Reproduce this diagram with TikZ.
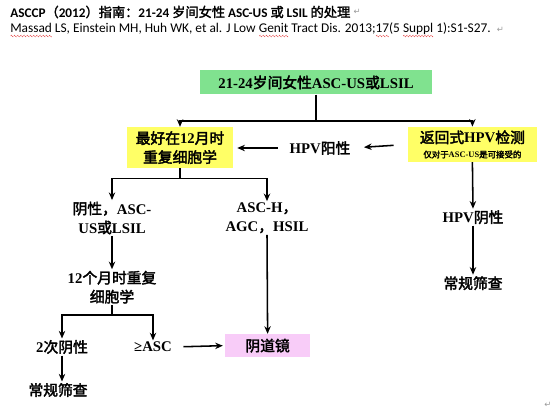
\documentclass[tikz,border=0pt]{standalone}
\usepackage{fontspec}
\setmainfont{Liberation Serif}
\newfontfamily\zhfont{Noto Sans CJK SC}[FakeBold=2.5]
\newfontfamily\zhtitle{Noto Sans CJK SC}[FakeBold=2]
\newfontfamily\calfont{Carlito}
\newfontfamily\markfont{DejaVu Sans}
\usetikzlibrary{arrows.meta,positioning}
\definecolor{boxgreen}{HTML}{80E28F}
\definecolor{boxyellow}{HTML}{FFFF66}
\definecolor{boxpink}{HTML}{F8CCF8}
\definecolor{markgray}{HTML}{9A9A9A}
\definecolor{spellred}{HTML}{E03030}
\newcommand{\zh}[1]{{\zhfont\mdseries #1}}
\newcommand{\zht}[1]{{\zhtitle\mdseries #1}}
\newcommand{\spellmark}[1]{\setbox0\hbox{#1}%
  \rlap{\color{spellred}\raisebox{-2.6pt}{\hbox to \wd0{\xleaders\hbox{%
    \rotatebox{40}{\rule{1.1pt}{0.35pt}}\rotatebox{-40}{\rule{1.1pt}{0.35pt}}}\hfil}}}\box0\relax}

\begin{document}
\begin{tikzpicture}[
  every node/.style={font=\fontsize{10.5}{13.5}\selectfont\bfseries},
  txt/.style={align=center, inner sep=1pt},
  greenbox/.style={fill=boxgreen, align=center, inner sep=2pt,
                   minimum width=5.8cm, minimum height=0.6cm},
  yellowbox/.style={fill=boxyellow, align=center, inner sep=2pt},
  pinkbox/.style={fill=boxpink, align=center, inner sep=2pt,
                  minimum width=2.125cm, minimum height=0.575cm},
  retmark/.style={font=\markfont\fontsize{6}{6}\selectfont, text=markgray, inner sep=0pt},
  line/.style={draw, line width=1.1pt},
  arr/.style={-{Stealth[length=1.9mm, width=1.6mm]}, line width=1.1pt}
]
  \useasboundingbox (0,0) rectangle (14,-10.35);

  % Heading and reference
  \node[anchor=west, inner sep=0pt, font=\calfont\bfseries\fontsize{9.4}{11}\selectfont] (title) at (0.25,-0.3)
    {ASCCP\zht{（}2012\zht{）指南：}21-24 \zht{岁间女性} ASC-US \zht{或} LSIL \zht{的处理}};
  \node[retmark, right=2pt of title] (mark1) {↵};
  \node[anchor=west, inner sep=0pt, font=\calfont\fontsize{9.5}{11}\selectfont] (cite) at (0.25,-0.75)
    {\spellmark{Massad} LS, Einstein MH, Huh WK, et al. J Low \spellmark{Genit} Tract Dis. 2013;\spellmark{17}(5 \spellmark{Suppl} 1):S1-S27.};
  \node[retmark, right=4pt of cite] (mark2) {↵};
  \node[retmark] (mark3) at (13.7,-10.12) {↵};

  % Boxes
  \node[greenbox] (start) at (7.9,-2.06) {21-24\zh{岁间女性}ASC-US\zh{或}LSIL};
  \node[yellowbox, minimum width=2.65cm, minimum height=1.025cm] (repeat) at (4.5,-3.69)
    {\zh{最好在}12\zh{月时}\\\zh{重复细胞学}};
  \node[yellowbox, minimum width=3.225cm, minimum height=0.875cm] (reflex) at (11.81,-3.61)
    {\zh{返回式}HPV\zh{检测}\\[-3pt]{\fontsize{6}{7}\selectfont\zh{仅对于}ASC-US\zh{是可接受的}}};
  \node[pinkbox] (colpo) at (6.69,-8.64) {\zh{阴道镜}};

  % Results
  \node[txt] (hpvpos) at (8.0,-3.7) {HPV\zh{阳性}};
  \node[txt] (neg1) at (2.8,-5.45) {\zh{阴性，}ASC-\\US\zh{或}LSIL};
  \node[txt] (high) at (6.675,-5.45) {ASC-H\zh{，}\\AGC\zh{，}HSIL};
  \node[txt] (cyto12) at (2.8,-7.18) {12\zh{个月时重复}\\\zh{细胞学}};
  \node[txt] (neg2) at (1.55,-8.675) {2\zh{次阴性}};
  \node[txt] (ascup) at (3.825,-8.675) {≥ASC};
  \node[txt] (routine1) at (1.45,-9.75) {\zh{常规筛查}};
  \node[txt] (hpvneg) at (11.825,-5.43) {HPV\zh{阴性}};
  \node[txt] (routine2) at (11.825,-7.08) {\zh{常规筛查}};

  % Connectors
  \draw[line] (start.south) -- ++(0,-0.66) coordinate (j1);
  \draw[arr] (j1) -| (repeat.north);
  \draw[arr] (j1) -| (reflex.north);
  \draw[arr, shorten <=0.35cm, shorten >=0.3cm] (reflex.west) -- (hpvpos.east);
  \draw[arr, shorten <=0.25cm, shorten >=0.1cm] (hpvpos.west) -- (repeat.east |- hpvpos.west);
  \draw[line] (repeat.south) -- ++(0,-0.25) coordinate (j2);
  \draw[arr] (j2) -| (neg1.north);
  \draw[arr] (j2) -| (high.north);
  \draw[arr] (neg1.south) -- (cyto12.north);
  \draw[arr] (high.south) -- (colpo.north);
  \draw[line] (cyto12.south) -- ++(0,-0.25) coordinate (j3);
  \draw[arr] (j3) -| (neg2.north);
  \draw[arr] (j3) -| (ascup.north);
  \draw[arr, shorten <=0.25cm, shorten >=0.05cm] (ascup.east) -- (colpo.west);
  \draw[arr] (neg2.south) -- (neg2.south |- routine1.north);
  \draw[arr] (reflex.south) -- (hpvneg.north);
  \draw[arr] (hpvneg.south) -- (routine2.north);
\end{tikzpicture}
\end{document}
